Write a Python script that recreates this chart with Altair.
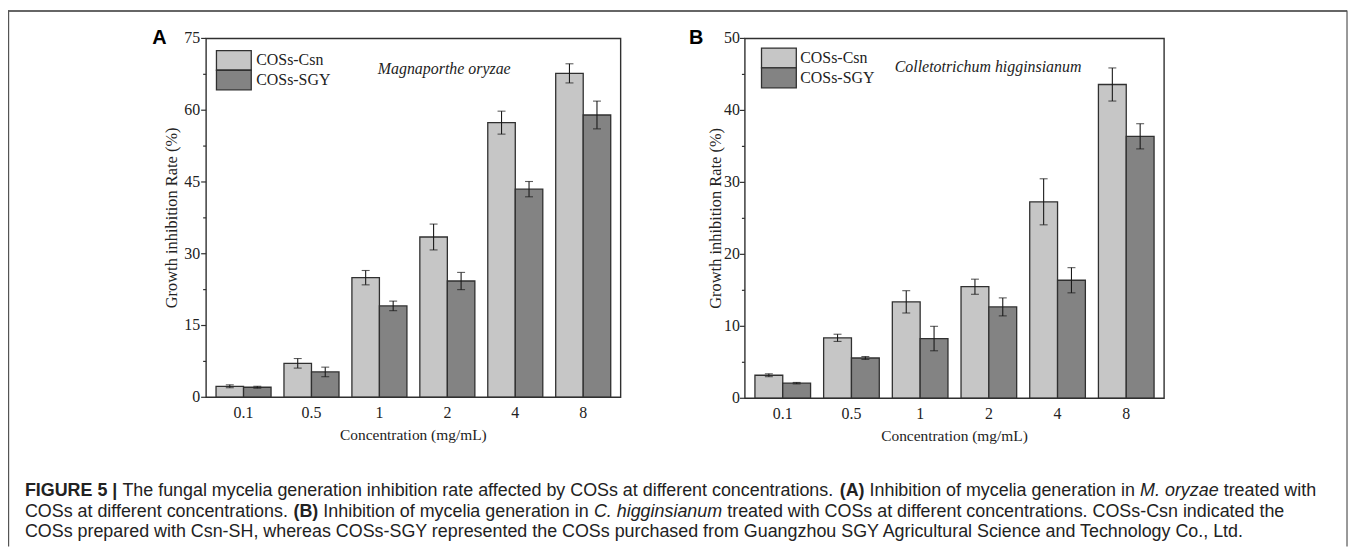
import altair as alt
import pandas as pd

# ---------------- data ----------------
conc = ["0.1", "0.5", "1", "2", "4", "8"]
series = ["COSs-Csn", "COSs-SGY"]

a_csn = [2.3, 7.1, 25.0, 33.5, 57.4, 67.7]
a_csn_err = [0.3, 1.0, 1.5, 2.7, 2.4, 2.0]
a_sgy = [2.1, 5.3, 19.1, 24.3, 43.5, 59.0]
a_sgy_err = [0.2, 1.0, 1.0, 1.8, 1.6, 2.9]

b_csn = [3.2, 8.4, 13.4, 15.5, 27.3, 43.6]
b_csn_err = [0.2, 0.5, 1.55, 1.05, 3.2, 2.3]
b_sgy = [2.1, 5.6, 8.3, 12.7, 16.4, 36.4]
b_sgy_err = [0.1, 0.2, 1.7, 1.25, 1.75, 1.75]

a_ticks = [0, 7.5, 15, 22.5, 30, 37.5, 45, 52.5, 60, 67.5, 75]
b_ticks = [0, 5, 10, 15, 20, 25, 30, 35, 40, 45, 50]

caption_lines = [
    [("FIGURE 5 |", "b"),
     (" The fungal mycelia generation inhibition rate affected by COSs at different concentrations. ", "n"),
     ("(A)", "b"),
     (" Inhibition of mycelia generation in ", "n"),
     ("M. oryzae", "i"),
     (" treated with", "n")],
    [("COSs at different concentrations. ", "n"),
     ("(B)", "b"),
     (" Inhibition of mycelia generation in ", "n"),
     ("C. higginsianum", "i"),
     (" treated with COSs at different concentrations. COSs-Csn indicated the", "n")],
    [("COSs prepared with Csn-SH, whereas COSs-SGY represented the COSs purchased from Guangzhou SGY Agricultural Science and Technology Co., Ltd.", "n")],
]

# ---------------- styling / layout ----------------
W, H = 1349, 540
SERIF = "Liberation Serif"
SANS = "Liberation Sans"
C_LIGHT, C_DARK = "#c6c6c6", "#838383"
EDGE = "#303030"
TXT = "#222222"

def make_df(csn, csn_err, sgy, sgy_err):
    rows = []
    for s, vals, errs in ((series[0], csn, csn_err), (series[1], sgy, sgy_err)):
        for c, v, e in zip(conc, vals, errs):
            rows.append({"conc": c, "series": s, "value": v, "lo": v - e, "hi": v + e})
    return pd.DataFrame(rows)

cscale = alt.Scale(domain=series, range=[C_LIGHT, C_DARK])


def panel(df, ymax, ticks, major, xr, yr, lab_gap, ytitle_x):
    xs = alt.Scale(domain=conc, range=xr, paddingInner=0.19, paddingOuter=0.146)
    ys = alt.Scale(domain=[0, ymax], range=yr, nice=False, zero=True)
    xo = alt.Scale(domain=series, paddingInner=0, paddingOuter=0)
    ax = xr[0]
    X = lambda f: alt.X(f, scale=xs, axis=None, sort=conc)
    XO = alt.XOffset("series:N", scale=xo)

    base = alt.Chart(df)
    bars = base.mark_bar(stroke=EDGE, strokeWidth=1.3).encode(
        x=X("conc:N"), xOffset=XO,
        y=alt.Y("value:Q", scale=ys, axis=None),
        color=alt.Color("series:N", scale=cscale, legend=None),
    )
    rules = base.mark_rule(color="#1a1a1a", strokeWidth=1.1).encode(
        x=X("conc:N"), xOffset=XO,
        y=alt.Y("lo:Q", scale=ys, axis=None), y2="hi:Q",
    )
    cap_lo = base.mark_tick(color="#1a1a1a", size=8, thickness=1.1).encode(
        x=X("conc:N"), xOffset=XO, y=alt.Y("lo:Q", scale=ys, axis=None))
    cap_hi = base.mark_tick(color="#1a1a1a", size=8, thickness=1.1).encode(
        x=X("conc:N"), xOffset=XO, y=alt.Y("hi:Q", scale=ys, axis=None))

    # y axis (ticks, labels, title) drawn through the panel's y scale
    tdf = pd.DataFrame({"v": ticks})
    tbase = alt.Chart(tdf).transform_calculate(major=f"datum.v % {major} === 0")
    tick_major = tbase.transform_filter("datum.major").mark_rule(color=EDGE, strokeWidth=1.2).encode(
        x=alt.value(ax - 5), x2=alt.value(ax), y=alt.Y("v:Q", scale=ys, axis=None))
    tick_minor = tbase.transform_filter("!datum.major").mark_rule(color=EDGE, strokeWidth=1.2).encode(
        x=alt.value(ax - 3), x2=alt.value(ax), y=alt.Y("v:Q", scale=ys, axis=None))
    ylabels = tbase.transform_filter("datum.major").mark_text(
        align="right", baseline="middle", font=SERIF, fontSize=16, color=TXT).encode(
        x=alt.value(ax - lab_gap), y=alt.Y("v:Q", scale=ys, axis=None), text=alt.Text("v:Q", format="d"))
    ytitle = alt.Chart(pd.DataFrame({"t": ["Growth inhibition Rate (%)"]})).mark_text(
        angle=270, align="center", baseline="middle", font=SERIF, fontSize=16.5, color=TXT).encode(
        x=alt.value(ytitle_x), y=alt.value((yr[0] + yr[1]) / 2), text="t:N")

    # x axis labels and title
    xlabels = alt.Chart(pd.DataFrame({"conc": conc})).mark_text(
        align="center", baseline="top", font=SERIF, fontSize=16, color=TXT).encode(
        x=X("conc:N"), y=alt.value(yr[0] + 8), text="conc:N")
    xtitle = alt.Chart(pd.DataFrame({"t": ["Concentration (mg/mL)"]})).mark_text(
        align="center", baseline="middle", font=SERIF, fontSize=15.5, color=TXT).encode(
        x=alt.value((xr[0] + xr[1]) / 2), y=alt.value(yr[0] + 37.5), text="t:N")

    return alt.layer(bars, rules, cap_lo, cap_hi, tick_major, tick_minor, ylabels, ytitle,
                     xlabels, xtitle)


A_XR, A_YR = [199.3, 616.3], [390, 29]
B_XR, B_YR = [741.3, 1163], [391, 29]

panelA = panel(make_df(a_csn, a_csn_err, a_sgy, a_sgy_err), 75, a_ticks, 15, A_XR, A_YR, 6, 165.5)
panelB = panel(make_df(b_csn, b_csn_err, b_sgy, b_sgy_err), 50, b_ticks, 10, B_XR, B_YR, 5, 712)

one = pd.DataFrame({"k": [0]})


def box(xr, yr):
    return alt.Chart(one).mark_rect(fill="white", fillOpacity=0, stroke=EDGE, strokeWidth=1.4).encode(
        x=alt.value(xr[0]), x2=alt.value(xr[1]), y=alt.value(yr[1]), y2=alt.value(yr[0]))


leg_df = pd.DataFrame({"series": series})


def legend(x0, x1, ytop, ybot, xt):
    ls = alt.Scale(domain=series, range=[ytop, ybot], paddingInner=0, paddingOuter=0)
    sw = alt.Chart(leg_df).mark_rect(stroke=EDGE, strokeWidth=1.3).encode(
        x=alt.value(x0), x2=alt.value(x1),
        y=alt.Y("series:N", scale=ls, axis=None),
        color=alt.Color("series:N", scale=cscale, legend=None),
    )
    tx = alt.Chart(leg_df).mark_text(align="left", baseline="middle", font=SERIF, fontSize=16, color=TXT).encode(
        x=alt.value(xt), y=alt.Y("series:N", scale=ls, axis=None), text="series:N")
    return [sw, tx]


def label(text, x, y, **kw):
    return alt.Chart(pd.DataFrame({"t": [text]})).mark_text(**kw).encode(
        x=alt.value(x), y=alt.value(y), text="t:N")


species = [
    label("Magnaporthe oryzae", 372, 60, align="left", baseline="middle", font=SERIF,
          fontSize=16, fontStyle="italic", color=TXT),
    label("Colletotrichum higginsianum", 892, 58, align="left", baseline="middle", font=SERIF,
          fontSize=16, fontStyle="italic", color=TXT),
]
panel_labels = [
    label("A", 145, 35, align="left", baseline="alphabetic", font=SANS, fontSize=20,
          fontWeight="bold", color="#000000"),
    label("B", 685, 35, align="left", baseline="alphabetic", font=SANS, fontSize=20,
          fontWeight="bold", color="#000000"),
]

# ---------------- caption (Arial-metric layout) ----------------
AR = dict(zip("ABCDEFGHIJKLMNOPQRSTUVWXYZ",
              [667, 667, 722, 722, 667, 611, 778, 722, 278, 500, 667, 556, 833, 722, 778, 667, 778, 722,
               667, 611, 722, 667, 944, 667, 667, 611]))
AR.update(zip("abcdefghijklmnopqrstuvwxyz",
              [556, 556, 500, 556, 556, 278, 556, 556, 222, 222, 500, 222, 833, 556, 556, 556, 556, 333,
               500, 278, 556, 500, 722, 500, 500, 500]))
AR.update({" ": 278, ".": 278, ",": 278, "|": 260, "(": 333, ")": 333, "-": 333, "/": 278})
AR.update({d: 556 for d in "0123456789"})
AB = dict(AR)
AB.update({"A": 722, "B": 722, "C": 722, "F": 611, "G": 778, "I": 278, "R": 722, "U": 722, "E": 667,
           "|": 280, "(": 333, ")": 333, " ": 278})


def width(s, style):
    tbl = AB if style == "b" else AR
    return sum(tbl.get(ch, 556) for ch in s) / 1000.0


CAP_X0, CAP_W = 17, 1299
CAP_Y = [489, 510, 531]
line1_em = sum(width(s, st) for s, st in caption_lines[0])
CAP_FS = CAP_W / line1_em

rows = []
for li, segs in enumerate(caption_lines):
    cur = 0.0
    for s, st in segs:
        lead = len(s) - len(s.lstrip())
        rows.append({"text": s.strip(), "x": CAP_X0 + (cur + width(s[:lead], st)) * CAP_FS,
                     "y": CAP_Y[li], "style": st})
        cur += width(s, st)
cap_df = pd.DataFrame(rows)


def cap_layer(style, **kw):
    return alt.Chart(cap_df).transform_filter(alt.datum.style == style).mark_text(
        align="left", baseline="alphabetic", font=SANS, fontSize=CAP_FS, color=TXT, **kw).encode(
        x=alt.X("x:Q", scale=None, axis=None), y=alt.Y("y:Q", scale=None, axis=None), text="text:N")


captions = [cap_layer("n"), cap_layer("b", fontWeight="bold"), cap_layer("i", fontStyle="italic")]

# ---------------- outer frame ----------------
frame = [
    alt.Chart(one).mark_rule(color="#333333", strokeWidth=1.5).encode(
        x=alt.value(0), x2=alt.value(W - 2), y=alt.value(1.5)),
    alt.Chart(one).mark_rule(color="#555555", strokeWidth=1.2).encode(
        x=alt.value(0.6), y=alt.value(1), y2=alt.value(H)),
    alt.Chart(one).mark_rule(color="#555555", strokeWidth=1.2).encode(
        x=alt.value(W - 2), y=alt.value(1), y2=alt.value(H)),
]

chart = alt.layer(
    *frame, panelA, panelB, box(A_XR, A_YR), box(B_XR, B_YR),
    *legend(209.7, 244.7, 41.3, 80.7, 249.7),
    *legend(758, 793, 38.7, 78.7, 797),
    *species, *panel_labels, *captions,
).resolve_scale(
    x="independent", y="independent", color="independent", xOffset="independent"
).properties(
    width=W, height=H, autosize=alt.AutoSizeParams(type="none"), padding=0
).configure_view(stroke=None)

chart.save("out.html", embed_options={"renderer": "svg", "actions": False})
